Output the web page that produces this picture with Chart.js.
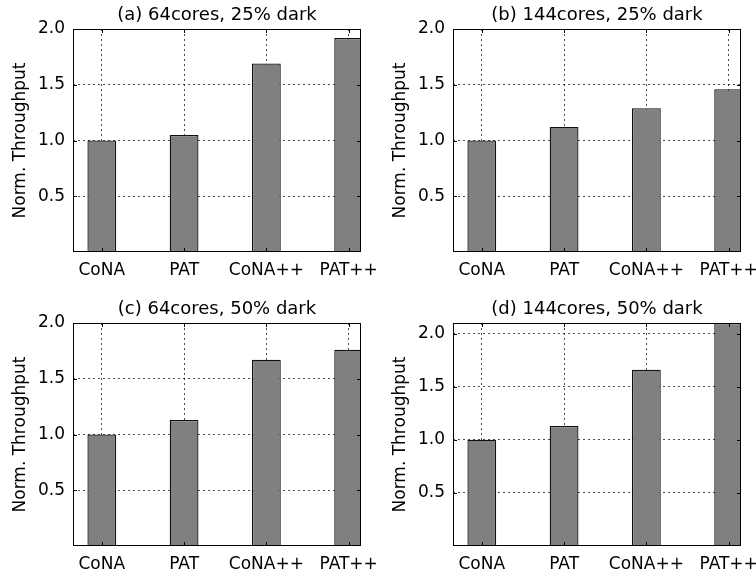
<!DOCTYPE html>
<html lang="en">
<head>
<meta charset="UTF-8">
<title>Norm. Throughput</title>
<script src="https://cdn.jsdelivr.net/npm/chart.js"></script>
<style>
  body { margin: 0; background: #fff; }
  #wrap { position: relative; width: 756px; height: 577px; overflow: hidden; }
  canvas { position: absolute; }
</style>
</head>
<body>
<div id="wrap">
  <canvas id="chartA" width="380" height="283" style="left:0;top:0"></canvas>
  <canvas id="chartB" width="376" height="283" style="left:380px;top:0"></canvas>
  <canvas id="chartC" width="380" height="283" style="left:0;top:294px"></canvas>
  <canvas id="chartD" width="376" height="283" style="left:380px;top:294px"></canvas>
</div>
<script>
const categories = ['CoNA', 'PAT', 'CoNA++', 'PAT++'];
const panelTitles = ['(a) 64cores, 25% dark', '(b) 144cores, 25% dark', '(c) 64cores, 50% dark', '(d) 144cores, 50% dark'];
const throughputA = [1.0, 1.05, 1.69, 1.92];
const throughputB = [1.0, 1.12, 1.29, 1.46];
const throughputC = [1.0, 1.13, 1.67, 1.76];
const throughputD = [1.0, 1.13, 1.66, 2.1];
const yTickValues = [0.5, 1.0, 1.5, 2.0];
const yMaxes = [2.0, 2.0, 2.0, 2.1];

Chart.defaults.font.family = "'DejaVu Sans', sans-serif";
Chart.defaults.font.size = 17;
Chart.defaults.color = '#000';

// matplotlib-ish box around the axes plus inward tick marks
const framePlugin = {
  id: 'frame',
  afterDraw(chart) {
    const {ctx, chartArea: a, scales: {x, y}} = chart;
    ctx.save();
    ctx.strokeStyle = '#000';
    ctx.lineWidth = 1;
    ctx.strokeRect(a.left + 0.5, a.top + 0.5, a.right - a.left - 1, a.bottom - a.top - 1);
    ctx.beginPath();
    x.ticks.forEach(t => {
      const px = Math.round(x.getPixelForValue(t.value)) + 0.5;
      ctx.moveTo(px, a.bottom); ctx.lineTo(px, a.bottom - 4);
      ctx.moveTo(px, a.top); ctx.lineTo(px, a.top + 4);
    });
    y.ticks.forEach(t => {
      const py = Math.round(y.getPixelForValue(t.value)) + 0.5;
      ctx.moveTo(a.left, py); ctx.lineTo(a.left + 4, py);
      ctx.moveTo(a.right, py); ctx.lineTo(a.right - 4, py);
    });
    ctx.stroke();
    ctx.restore();
  }
};

const gridStyle = { color: 'rgba(0,0,0,0.7)', lineWidth: 1, drawTicks: false, offset: false };
const borderStyle = { display: false, dash: [2, 3] };

function makePanel(id, title, values, yMax, rightPad) {
  return new Chart(document.getElementById(id), {
    type: 'bar',
    data: {
      datasets: [{
        data: values.map((v, i) => ({ x: i, y: v })),
        backgroundColor: '#808080',
        borderColor: '#111',
        borderWidth: 1.3,
        barPercentage: 0.35,
        categoryPercentage: 1
      }]
    },
    options: {
      responsive: false,
      animation: false,
      layout: { padding: { left: 0, right: rightPad, top: 0, bottom: 0 } },
      plugins: {
        legend: { display: false },
        tooltip: { enabled: false },
        title: {
          display: true,
          text: title,
          fullSize: false,
          padding: { top: 4.2, bottom: 3.2 },
          font: { size: 18, weight: 'normal' },
          color: '#000'
        }
      },
      scales: {
        x: {
          type: 'linear',
          min: -0.35,
          max: 3.15,
          offset: false,
          z: 1,
          afterBuildTicks: s => { s.ticks = categories.map((c, i) => ({ value: i })); },
          afterFit: s => { s.height = 31; s.paddingLeft = 0; s.paddingRight = 0; },
          ticks: { callback: v => categories[v] ?? '', padding: 8, autoSkip: false, maxRotation: 0 },
          grid: gridStyle,
          border: borderStyle
        },
        y: {
          min: 0,
          max: yMax,
          z: 1,
          afterBuildTicks: s => { s.ticks = yTickValues.map(v => ({ value: v })); },
          afterFit: s => { s.width = 73; s.paddingTop = 0; s.paddingBottom = 0; },
          ticks: { callback: v => v.toFixed(1), padding: 8 },
          grid: gridStyle,
          border: borderStyle,
          title: {
            display: true,
            text: 'Norm. Throughput',
            font: { size: 17 },
            padding: { top: 10, bottom: 0 }
          }
        }
      }
    },
    plugins: [framePlugin]
  });
}

makePanel('chartA', panelTitles[0], throughputA, yMaxes[0], 19);
makePanel('chartB', panelTitles[1], throughputB, yMaxes[1], 15);
makePanel('chartC', panelTitles[2], throughputC, yMaxes[2], 19);
makePanel('chartD', panelTitles[3], throughputD, yMaxes[3], 15);
</script>
</body>
</html>
